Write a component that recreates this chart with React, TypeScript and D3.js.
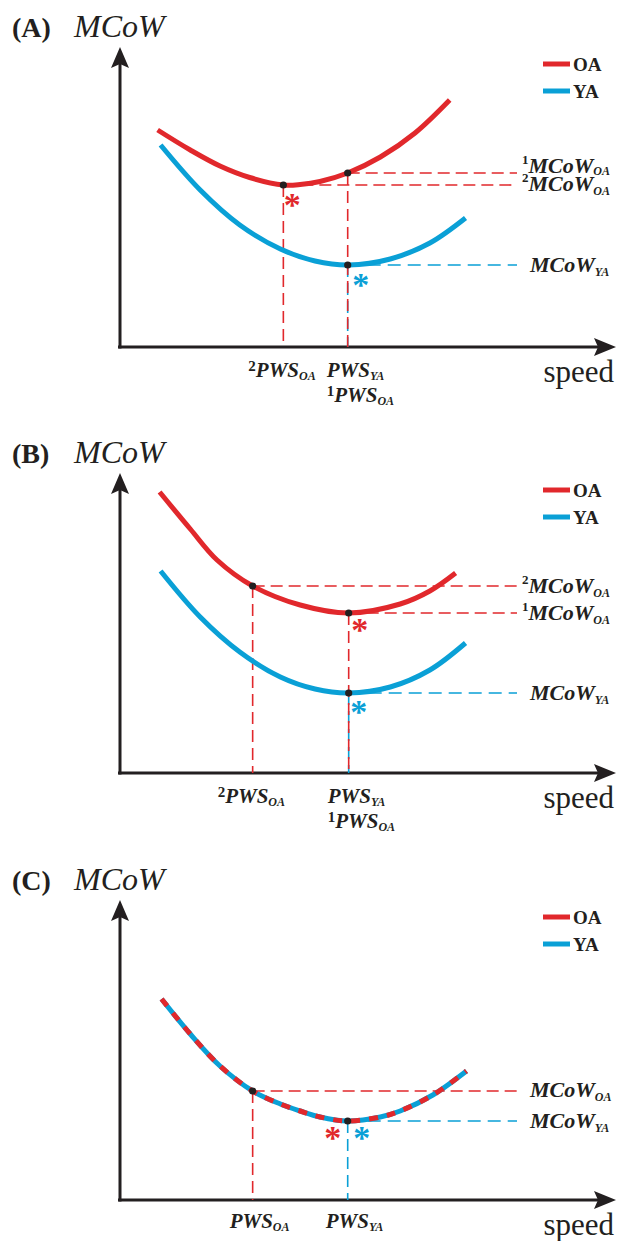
import React, { useEffect, useRef } from 'react';
import * as d3 from 'd3';

// curve values: [speed, MCoW] in arbitrary units
const oaA: [number, number][] = [[3.8, 21.7], [7.1, 19.7], [10.1, 18.1], [13.1, 16.95], [16.5, 16.2], [18.2, 16.25], [20.2, 16.55], [23.0, 17.4], [26.3, 19.0], [29.8, 21.4], [33.3, 24.7]];
const yaA: [number, number][] = [[4.1, 20.2], [8.1, 15.7], [12.1, 12.2], [16.2, 9.8], [19.7, 8.6], [23.1, 8.2], [27.3, 8.8], [31.3, 10.4], [34.9, 12.9]];
const oaB: [number, number][] = [[4.0, 28.1], [7.1, 24.4], [9.8, 21.3], [13.4, 18.7], [18.2, 16.8], [23.1, 16.0], [28.3, 16.9], [31.3, 18.2], [33.9, 20.0]];
const yaB: [number, number][] = [[4.1, 20.2], [8.1, 15.6], [12.1, 12.1], [16.2, 9.6], [19.7, 8.4], [23.1, 8.0], [27.3, 8.6], [31.3, 10.3], [34.9, 13.0]];
const bothC: [number, number][] = [[4.2, 20.1], [7.1, 16.6], [10.1, 13.4], [13.4, 10.9], [16.2, 9.6], [18.2, 8.9], [20.2, 8.3], [23.0, 7.9], [26.3, 8.3], [28.3, 8.9], [31.6, 10.5], [35.0, 12.9]];

// preferred walking speeds and MCoW levels marked in each panel
const pwsA = { oa: 16.5, ya: 23.0 };
const mcowA = { oa1: 17.4, oa2: 16.2, ya: 8.2 };
const pwsB = { oa: 13.4, ya: 23.1 };
const mcowB = { oa2: 18.7, oa1: 16.0, ya: 8.0 };
const pwsC = { oa: 13.4, ya: 23.0 };
const mcowC = { oa: 10.9, ya: 7.9 };

const legendNames = ['OA', 'YA'];
const panelLetters = ['(A)', '(B)', '(C)'];

const RED = '#e1282c';
const BLUE = '#0aa0d6';
const INK = '#231f20';
const SERIF = '"Liberation Serif", "Times New Roman", serif';

const App = () => {
  const ref = useRef<SVGSVGElement>(null);

  useEffect(() => {
    const svg = d3.select(ref.current);
    svg.selectAll('*').remove();

    const x = d3.scaleLinear().domain([0, 50]).range([120, 615]);
    const lineEnd = 517;
    const axisYs = [347, 773, 1200];

    const curve = (y: d3.ScaleLinear<number, number>) =>
      d3.line<[number, number]>().x(d => x(d[0])).y(d => y(d[1])).curve(d3.curveCatmullRom.alpha(0.5));

    const dashed = (g: any, x1: number, y1: number, x2: number, y2: number, color: string, dash: string) =>
      g.append('line').attr('x1', x1).attr('y1', y1).attr('x2', x2).attr('y2', y2)
        .attr('stroke', color).attr('stroke-width', 1.6).attr('stroke-dasharray', dash);

    const rLabel = (g: any, base: number, sup: string, sub: string, subDy = 4) => {
      const t = g.append('text').attr('x', sup ? 522 : 530).attr('y', base)
        .style('font-family', SERIF).style('font-weight', 'bold').style('font-style', 'italic').attr('fill', INK);
      if (sup) t.append('tspan').style('font-size', '13px').style('font-style', 'normal').attr('dy', -9).text(sup);
      t.append('tspan').style('font-size', '22px').attr('dy', sup ? 9 : 0).text('MCoW');
      t.append('tspan').style('font-size', '12px').attr('dy', subDy).text(sub);
    };

    const bLabel = (g: any, xp: number, yp: number, pre: string, sub: string) => {
      const t = g.append('text').attr('x', xp).attr('y', yp)
        .style('font-family', SERIF).style('font-weight', 'bold').style('font-style', 'italic').attr('fill', INK);
      if (pre) t.append('tspan').style('font-size', '15px').style('font-style', 'normal').attr('dy', -6).text(pre);
      t.append('tspan').style('font-size', '21px').attr('dy', pre ? 6 : 0).text('PWS');
      t.append('tspan').style('font-size', '12px').attr('dy', 3).text(sub);
    };

    const star = (g: any, cx: number, cy: number, color: string) =>
      g.append('text').attr('x', cx).attr('y', cy + 16).attr('text-anchor', 'middle')
        .style('font-family', SERIF).style('font-weight', 'bold').style('font-size', '34px')
        .attr('fill', color).text('*');

    const dot = (g: any, cx: number, cy: number) =>
      g.append('circle').attr('cx', cx).attr('cy', cy).attr('r', 3.6).attr('fill', INK);

    axisYs.forEach((ay, i) => {
      const g = svg.append('g');
      const y = d3.scaleLinear().domain([0, 30]).range([ay, ay - 300]);

      // axes with arrow heads
      g.append('line').attr('x1', 118).attr('y1', ay).attr('x2', 600).attr('y2', ay).attr('stroke', INK).attr('stroke-width', 3);
      g.append('path').attr('d', `M616,${ay} L594,${ay - 9} L598,${ay} L594,${ay + 9} Z`).attr('fill', INK);
      g.append('line').attr('x1', 120).attr('y1', ay + 1.5).attr('x2', 120).attr('y2', ay - 285).attr('stroke', INK).attr('stroke-width', 3);
      g.append('path').attr('d', `M120,${ay - 300} L111,${ay - 279} L120,${ay - 283} L129,${ay - 279} Z`).attr('fill', INK);

      g.append('text').attr('x', 12).attr('y', ay - 310).style('font-family', SERIF)
        .style('font-weight', 'bold').style('font-size', '28px').attr('fill', INK).text(panelLetters[i]);
      g.append('text').attr('x', 74).attr('y', ay - 310).style('font-family', SERIF)
        .style('font-style', 'italic').style('font-size', '32px').attr('fill', INK).text('MCoW');
      g.append('text').attr('x', 614).attr('y', ay + 35).attr('text-anchor', 'end').style('font-family', SERIF)
        .style('font-size', '31px').attr('fill', INK).text('speed');

      // legend
      legendNames.forEach((nm, k) => {
        const ly = ay - 283 + k * 27;
        g.append('line').attr('x1', 543).attr('x2', 570).attr('y1', ly).attr('y2', ly)
          .attr('stroke', k === 0 ? RED : BLUE).attr('stroke-width', 5);
        g.append('text').attr('x', 573).attr('y', ly + 6.5).style('font-family', SERIF)
          .style('font-weight', 'bold').style('font-size', '19px').attr('fill', INK).text(nm);
      });

      if (i === 0 || i === 1) {
        const oa = i === 0 ? oaA : oaB;
        const ya = i === 0 ? yaA : yaB;
        const pws = i === 0 ? pwsA : pwsB;
        const mc = i === 0 ? mcowA : mcowB;

        dashed(g, x(pws.oa), y(mc.oa2), lineEnd, y(mc.oa2), RED, '12 6');
        dashed(g, x(pws.ya), y(mc.oa1), lineEnd, y(mc.oa1), RED, '12 6');
        dashed(g, x(pws.ya), y(mc.ya), lineEnd, y(mc.ya), BLUE, '13 7');
        dashed(g, x(pws.oa), y(mc.oa2), x(pws.oa), ay, RED, '12 6');
        dashed(g, x(pws.ya), y(mc.ya), x(pws.ya), ay, BLUE, '12 6');
        dashed(g, x(pws.ya), y(mc.oa1), x(pws.ya), ay, RED, '12 6');

        g.append('path').attr('d', curve(y)(oa)).attr('fill', 'none').attr('stroke', RED).attr('stroke-width', 5);
        g.append('path').attr('d', curve(y)(ya)).attr('fill', 'none').attr('stroke', BLUE).attr('stroke-width', 5);

        dot(g, x(pws.oa), y(mc.oa2));
        dot(g, x(pws.ya), y(mc.oa1));
        dot(g, x(pws.ya), y(mc.ya));

        if (i === 0) {
          star(g, x(pws.oa) + 9, y(mc.oa2) + 15, RED);
          star(g, x(pws.ya) + 13, y(mc.ya) + 15, BLUE);
          // the two OA levels sit close together, so the labels are stacked tightly
          rLabel(g, y(mc.oa1) - 0.5, '1', 'OA', 2);
          rLabel(g, y(mc.oa2) + 6, '2', 'OA');
          rLabel(g, y(mc.ya) + 7, '', 'YA');
        } else {
          star(g, x(pws.ya) + 11, y(mc.oa1) + 12, RED);
          star(g, x(pws.ya) + 10, y(mc.ya) + 14, BLUE);
          rLabel(g, y(mc.oa2) + 7, '2', 'OA');
          rLabel(g, y(mc.oa1) + 7, '1', 'OA');
          rLabel(g, y(mc.ya) + 7, '', 'YA');
        }
        bLabel(g, x(pws.oa) - 35, ay + 30, '2', 'OA');
        bLabel(g, x(pws.ya) - 21, ay + 30, '', 'YA');
        bLabel(g, x(pws.ya) - 21, ay + 55, '1', 'OA');
      } else {
        dashed(g, x(pwsC.oa), y(mcowC.oa), lineEnd, y(mcowC.oa), RED, '12 6');
        dashed(g, x(pwsC.ya), y(mcowC.ya), lineEnd, y(mcowC.ya), BLUE, '13 7');
        dashed(g, x(pwsC.oa), y(mcowC.oa), x(pwsC.oa), ay, RED, '12 6');
        dashed(g, x(pwsC.ya), y(mcowC.ya), x(pwsC.ya), ay, BLUE, '12 6');

        g.append('path').attr('d', curve(y)(bothC)).attr('fill', 'none').attr('stroke', BLUE).attr('stroke-width', 5);
        g.append('path').attr('d', curve(y)(bothC)).attr('fill', 'none').attr('stroke', RED).attr('stroke-width', 5)
          .attr('stroke-dasharray', '9 9');

        dot(g, x(pwsC.oa), y(mcowC.oa));
        dot(g, x(pwsC.ya), y(mcowC.ya));
        star(g, x(pwsC.ya) - 15, y(mcowC.ya) + 12, RED);
        star(g, x(pwsC.ya) + 14, y(mcowC.ya) + 12, BLUE);
        rLabel(g, y(mcowC.oa) + 6, '', 'OA');
        rLabel(g, y(mcowC.ya) + 7, '', 'YA');
        bLabel(g, x(pwsC.oa) - 23, ay + 28, '', 'OA');
        bLabel(g, x(pwsC.ya) - 22, ay + 28, '', 'YA');
      }
    });
  }, []);

  return (
    <div style={{ position: 'absolute', left: 0, top: 0 }}>
      <svg ref={ref} width={617} height={1241} style={{ display: 'block', background: '#fff' }} />
    </div>
  );
};

export default App;
